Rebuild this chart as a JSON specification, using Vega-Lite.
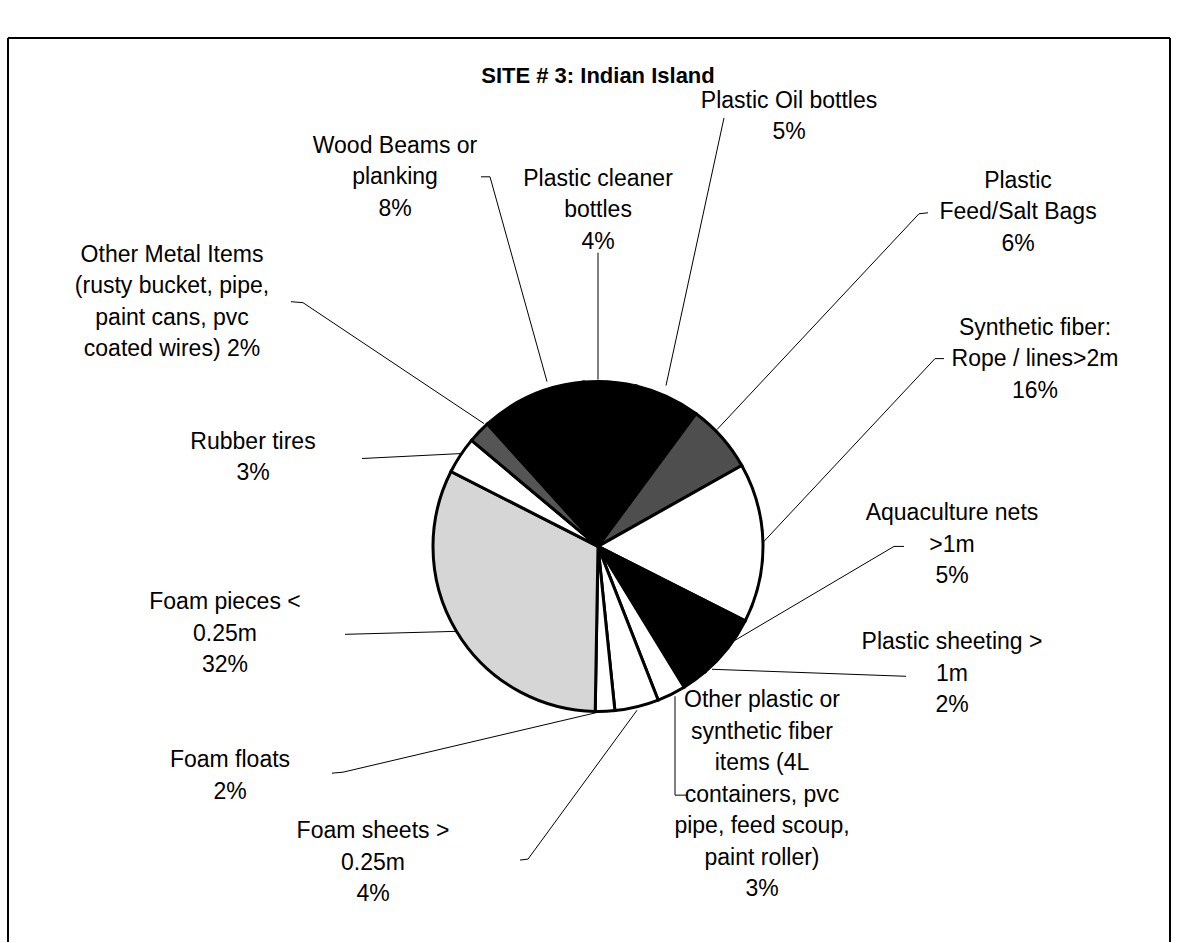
{
  "$schema": "https://vega.github.io/schema/vega-lite/v6.json",
  "width": 1177,
  "height": 943,
  "padding": 0,
  "autosize": {"type": "fit", "contains": "padding"},
  "background": "white",
  "config": {"view": {"stroke": null}},
  "datasets": {
    "slices": [
      {"k": 1, "item": "Plastic Oil bottles", "share": 6.4},
      {"k": 2, "item": "Plastic Feed/Salt Bags", "share": 6.7},
      {"k": 3, "item": "Synthetic fiber: Rope / lines>2m", "share": 15.6},
      {"k": 4, "item": "Aquaculture nets >1m", "share": 6.3},
      {"k": 5, "item": "Plastic sheeting > 1m", "share": 2.5},
      {"k": 6, "item": "Other plastic or synthetic fiber items", "share": 2.8},
      {"k": 7, "item": "Foam sheets > 0.25m", "share": 4.3},
      {"k": 8, "item": "Foam floats", "share": 1.9},
      {"k": 9, "item": "Foam pieces < 0.25m", "share": 32.2},
      {"k": 10, "item": "Rubber tires", "share": 3.6},
      {"k": 11, "item": "Other Metal Items", "share": 2.2},
      {"k": 12, "item": "Wood Beams or planking", "share": 10.3},
      {"k": 13, "item": "Plastic cleaner bottles", "share": 5.1}
    ],
    "labels": [
      {"item": "Plastic Oil bottles", "lines": ["Plastic Oil bottles", "5%"], "lx": 789, "ly": 108},
      {"item": "Plastic Feed/Salt Bags", "lines": ["Plastic", "Feed/Salt Bags", "6%"], "lx": 1018, "ly": 188},
      {"item": "Synthetic fiber: Rope / lines>2m", "lines": ["Synthetic fiber:", "Rope / lines>2m", "16%"], "lx": 1035, "ly": 335},
      {"item": "Aquaculture nets >1m", "lines": ["Aquaculture nets", ">1m", "5%"], "lx": 952, "ly": 521},
      {"item": "Plastic sheeting > 1m", "lines": ["Plastic sheeting >", "1m", "2%"], "lx": 952, "ly": 650},
      {"item": "Other plastic or synthetic fiber items", "lines": ["Other plastic or", "synthetic fiber", "items (4L", "containers, pvc", "pipe, feed scoup,", "paint roller)", "3%"], "lx": 762, "ly": 708},
      {"item": "Foam sheets > 0.25m", "lines": ["Foam sheets >", "0.25m", "4%"], "lx": 373, "ly": 839},
      {"item": "Foam floats", "lines": ["Foam floats", "2%"], "lx": 230, "ly": 768},
      {"item": "Foam pieces < 0.25m", "lines": ["Foam pieces <", "0.25m", "32%"], "lx": 225, "ly": 610},
      {"item": "Rubber tires", "lines": ["Rubber tires", "3%"], "lx": 253, "ly": 449},
      {"item": "Other Metal Items", "lines": ["Other Metal Items", "(rusty bucket, pipe,", "paint cans, pvc", "coated wires) 2%"], "lx": 172, "ly": 262},
      {"item": "Wood Beams or planking", "lines": ["Wood Beams or", "planking", "8%"], "lx": 395, "ly": 153},
      {"item": "Plastic cleaner bottles", "lines": ["Plastic cleaner", "bottles", "4%"], "lx": 598, "ly": 186}
    ],
    "leaders": [
      {"item": "Plastic Oil bottles", "j": 1, "px": 724, "py": 118},
      {"item": "Plastic Oil bottles", "j": 2, "px": 666, "py": 386},
      {"item": "Plastic Feed/Salt Bags", "j": 1, "px": 928, "py": 213},
      {"item": "Plastic Feed/Salt Bags", "j": 2, "px": 919, "py": 214},
      {"item": "Plastic Feed/Salt Bags", "j": 3, "px": 717, "py": 430},
      {"item": "Synthetic fiber: Rope / lines>2m", "j": 1, "px": 944, "py": 359},
      {"item": "Synthetic fiber: Rope / lines>2m", "j": 2, "px": 935, "py": 359},
      {"item": "Synthetic fiber: Rope / lines>2m", "j": 3, "px": 763, "py": 543},
      {"item": "Aquaculture nets >1m", "j": 1, "px": 904, "py": 547},
      {"item": "Aquaculture nets >1m", "j": 2, "px": 894, "py": 547},
      {"item": "Aquaculture nets >1m", "j": 3, "px": 735, "py": 641},
      {"item": "Plastic sheeting > 1m", "j": 1, "px": 906, "py": 677},
      {"item": "Plastic sheeting > 1m", "j": 2, "px": 712, "py": 670},
      {"item": "Other plastic or synthetic fiber items", "j": 1, "px": 675, "py": 697},
      {"item": "Other plastic or synthetic fiber items", "j": 2, "px": 675, "py": 796},
      {"item": "Other plastic or synthetic fiber items", "j": 3, "px": 688, "py": 796},
      {"item": "Foam sheets > 0.25m", "j": 1, "px": 637, "py": 711},
      {"item": "Foam sheets > 0.25m", "j": 2, "px": 528, "py": 860},
      {"item": "Foam sheets > 0.25m", "j": 3, "px": 520, "py": 861},
      {"item": "Foam floats", "j": 1, "px": 598, "py": 713},
      {"item": "Foam floats", "j": 2, "px": 343, "py": 773},
      {"item": "Foam floats", "j": 3, "px": 332, "py": 774},
      {"item": "Foam pieces < 0.25m", "j": 1, "px": 457, "py": 632},
      {"item": "Foam pieces < 0.25m", "j": 2, "px": 345, "py": 635},
      {"item": "Rubber tires", "j": 1, "px": 462, "py": 454},
      {"item": "Rubber tires", "j": 2, "px": 362, "py": 459},
      {"item": "Other Metal Items", "j": 1, "px": 291, "py": 302},
      {"item": "Other Metal Items", "j": 2, "px": 303, "py": 303},
      {"item": "Other Metal Items", "j": 3, "px": 484, "py": 424},
      {"item": "Wood Beams or planking", "j": 1, "px": 481, "py": 177},
      {"item": "Wood Beams or planking", "j": 2, "px": 490, "py": 177},
      {"item": "Wood Beams or planking", "j": 3, "px": 547, "py": 382},
      {"item": "Plastic cleaner bottles", "j": 1, "px": 598, "py": 253},
      {"item": "Plastic cleaner bottles", "j": 2, "px": 598, "py": 380}
    ],
    "frame": [
      {"side": "top", "x1": 8, "y1": 38, "x2": 1170, "y2": 38},
      {"side": "left", "x1": 8, "y1": 38, "x2": 8, "y2": 943},
      {"side": "right", "x1": 1170, "y1": 38, "x2": 1170, "y2": 943}
    ],
    "title": [
      {"text": "SITE # 3: Indian Island", "tx": 598, "ty": 83}
    ]
  },
  "layer": [
    {
      "data": {"name": "frame"},
      "mark": {"type": "rule", "color": "black", "strokeWidth": 2},
      "encoding": {
        "x": {"field": "x1", "type": "quantitative", "scale": {"domain": [0, 1177], "nice": false, "zero": false}, "axis": null},
        "y": {"field": "y1", "type": "quantitative", "scale": {"domain": [0, 943], "nice": false, "zero": false, "reverse": true}, "axis": null},
        "x2": {"field": "x2"},
        "y2": {"field": "y2"}
      }
    },
    {
      "data": {"name": "slices"},
      "mark": {"type": "arc", "radius": 165, "stroke": "black", "strokeWidth": 3, "strokeJoin": "miter"},
      "encoding": {
        "x": {"datum": 598, "type": "quantitative"},
        "y": {"datum": 547, "type": "quantitative"},
        "theta": {"field": "share", "type": "quantitative", "stack": true, "scale": {"range": [0.2339, 6.5171]}},
        "order": {"field": "k", "type": "quantitative"},
        "color": {
          "field": "item",
          "type": "nominal",
          "legend": null,
          "scale": {
            "domain": ["Plastic Oil bottles", "Plastic Feed/Salt Bags", "Synthetic fiber: Rope / lines>2m", "Aquaculture nets >1m", "Plastic sheeting > 1m", "Other plastic or synthetic fiber items", "Foam sheets > 0.25m", "Foam floats", "Foam pieces < 0.25m", "Rubber tires", "Other Metal Items", "Wood Beams or planking", "Plastic cleaner bottles"],
            "range": ["#000000", "#4e4e4e", "#ffffff", "#000000", "#000000", "#ffffff", "#ffffff", "#ffffff", "#d6d6d6", "#ffffff", "#555555", "#000000", "#000000"]
          }
        }
      }
    },
    {
      "data": {"name": "leaders"},
      "mark": {"type": "line", "color": "black", "strokeWidth": 1},
      "encoding": {
        "x": {"field": "px", "type": "quantitative"},
        "y": {"field": "py", "type": "quantitative"},
        "detail": {"field": "item"},
        "order": {"field": "j", "type": "quantitative"}
      }
    },
    {
      "data": {"name": "labels"},
      "mark": {"type": "text", "font": "Liberation Sans", "fontSize": 23, "lineHeight": 31.5, "align": "center", "baseline": "alphabetic", "color": "black"},
      "encoding": {
        "x": {"field": "lx", "type": "quantitative"},
        "y": {"field": "ly", "type": "quantitative"},
        "text": {"field": "lines"}
      }
    },
    {
      "data": {"name": "title"},
      "mark": {"type": "text", "font": "Liberation Sans", "fontSize": 22, "fontWeight": "bold", "align": "center", "baseline": "alphabetic", "color": "black"},
      "encoding": {
        "x": {"field": "tx", "type": "quantitative"},
        "y": {"field": "ty", "type": "quantitative"},
        "text": {"field": "text"}
      }
    }
  ]
}
